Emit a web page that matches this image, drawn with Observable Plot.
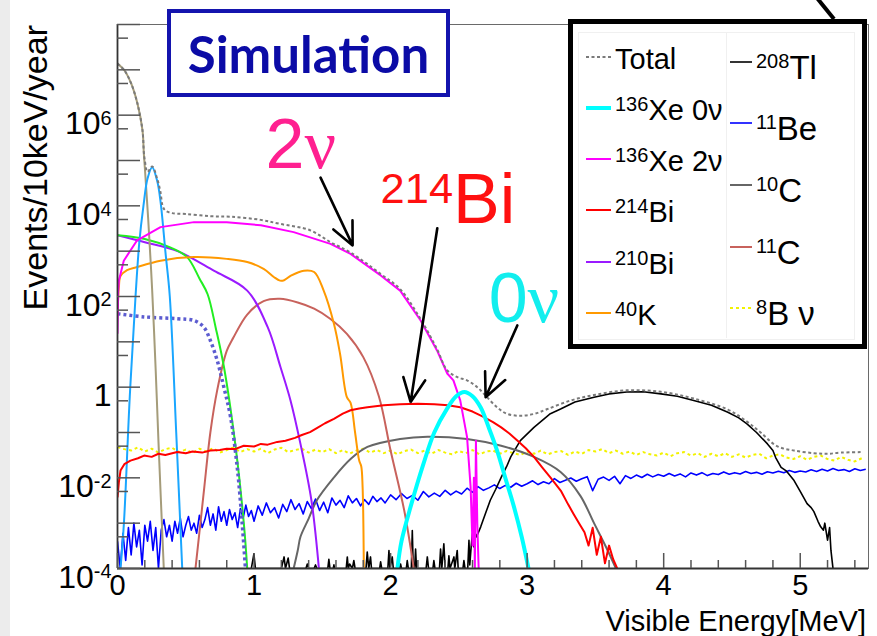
<!DOCTYPE html>
<html><head><meta charset="utf-8">
<script src="https://cdn.jsdelivr.net/npm/d3@7"></script>
<script src="https://cdn.jsdelivr.net/npm/@observablehq/plot@0.6"></script>
<style>
html,body{margin:0;padding:0;background:#fff;}
#wrap{position:relative;width:877px;height:636px;overflow:hidden;font-family:"Liberation Sans",Arial,sans-serif;}
#strip{position:absolute;left:0;top:0;width:10px;height:636px;background:#ececec;}
#chart{position:absolute;left:0;top:0;}
#sim{position:absolute;left:167px;top:9px;width:283px;height:88px;box-sizing:border-box;border:4px solid #1414ae;background:#fff;display:flex;align-items:center;justify-content:center;font-family:Lato,"Open Sans",sans-serif;font-weight:bold;font-size:51px;color:#0b0ba6;}
#legend{position:absolute;left:568px;top:19px;width:299px;height:330px;box-sizing:border-box;border:5px solid #000;background:#fff;}
#legend .inner{position:absolute;left:5px;top:8px;width:275px;height:306px;border:1px solid #f0f0f0;}
#legend .div{position:absolute;left:153px;top:8px;width:0;height:306px;border-left:1px solid #f0f0f0;}
#legend .row{position:absolute;height:50px;display:flex;align-items:center;white-space:nowrap;color:#000;}
#legend .row span.t{position:relative;line-height:1;}
#legend .sup{position:relative;font-size:20px;}
</style></head>
<body>
<div id="wrap">
  <div id="strip"></div>
  <div id="chart"></div>
  <div id="sim">Simulation</div>
  <div id="legend"><div class="inner"></div><div class="div"></div></div>
</div>
<script>
// ---------- data: [energy MeV, events/10keV/year] ----------
const total = [[0,1.38e7],[0.05,9.8e6],[0.1,5.0e6],[0.146,1.8e6],[0.183,4.6e5],[0.193,1.5e5],[0.2,1.0e5],[0.22,5.6e4],[0.254,7.4e4],[0.29,4.0e4],[0.315,2.0e4],[0.33,1.0e4],[0.35,7.9e3],[0.4,6.9e3],[0.5,6.6e3],[0.68,5.9e3],[0.83,5.75e3],[1.05,4.9e3],[1.19,4.0e3],[1.41,2.9e3],[1.56,1.58e3],[1.707,933],[1.93,309],[2.07,145],[2.22,31.6],[2.34,6.9],[2.415,2.34],[2.49,1.66],[2.56,1.41],[2.635,1.0],[2.7,0.63],[2.78,0.36],[2.85,0.26],[2.95,0.234],[3.05,0.257],[3.15,0.33],[3.32,0.51],[3.5,0.68],[3.73,0.85],[3.98,0.79],[4.22,0.56],[4.47,0.32],[4.61,0.174],[4.71,0.1],[4.83,0.05],[4.955,0.04],[5.1,0.035],[5.2,0.034],[5.3,0.036],[5.45,0.037]];
const xe136_0nu = [[2.05,1e-4],[2.08,4e-4],[2.15,2.5e-3],[2.24,0.02],[2.32,0.1],[2.415,0.34],[2.48,0.63],[2.54,0.78],[2.6,0.63],[2.66,0.355],[2.72,0.126],[2.78,0.04],[2.84,0.01],[2.9,2.5e-3],[2.96,5e-4],[3.01,1e-4]];
const xe136_2nu = [[0,15],[0.005,126],[0.01,224],[0.046,617],[0.144,1.74e3],[0.315,3.39e3],[0.56,4.37e3],[0.8,4.37e3],[1.05,3.72e3],[1.29,2.63e3],[1.56,1.45e3],[1.707,871],[1.93,288],[2.07,135],[2.22,29.5],[2.34,6.46],[2.415,2.0],[2.46,1.41],[2.51,0.51],[2.56,0.079],[2.586,6.3e-3],[2.6,3.2e-4],[2.61,0.01],[2.617,1e-4],[2.625,0.066],[2.635,1e-3],[2.645,1e-4]];
const bi214 = [[0,3.7e-3],[0.01,7.9e-3],[0.022,1.45e-2],[0.05,2.0e-2],[0.095,2.4e-2],[0.15,2.7e-2],[0.195,3.1e-2],[0.25,2.9e-2],[0.3,3.4e-2],[0.35,3.2e-2],[0.437,3.7e-2],[0.5,3.5e-2],[0.55,3.8e-2],[0.62,3.6e-2],[0.68,4.0e-2],[0.75,4.1e-2],[0.8,4.4e-2],[0.86,4.3e-2],[0.925,5.1e-2],[1.0,4.9e-2],[1.05,5.6e-2],[1.1,5.4e-2],[1.17,6.2e-2],[1.23,6.6e-2],[1.3,7.6e-2],[1.35,8.8e-2],[1.41,0.102],[1.46,0.125],[1.52,0.16],[1.585,0.2],[1.65,0.26],[1.707,0.31],[1.77,0.34],[1.83,0.36],[1.95,0.4],[2.07,0.42],[2.2,0.43],[2.32,0.42],[2.42,0.4],[2.51,0.36],[2.6,0.29],[2.68,0.22],[2.75,0.17],[2.81,0.13],[2.87,0.095],[2.93,0.066],[2.99,0.045],[3.05,0.029],[3.11,0.017],[3.17,0.0102],[3.21,7.2e-3],[3.25,5.0e-3],[3.3,2.6e-3],[3.34,1.6e-3],[3.38,1.0e-3],[3.42,6.3e-4],[3.45,3.2e-4],[3.48,7.9e-4],[3.51,2.0e-4],[3.54,5.0e-4],[3.57,1.3e-4],[3.6,3.2e-4],[3.63,1.6e-4],[3.66,1e-4]];
const bi210 = [[0,2.24e3],[0.2,1.58e3],[0.44,1.0e3],[0.705,370],[0.95,135],[1.1,21],[1.194,2.75],[1.267,0.51],[1.34,0.056],[1.42,3.2e-3],[1.475,1e-4]];
const k40 = [[0,40],[0.01,158],[0.022,282],[0.07,380],[0.144,447],[0.315,617],[0.56,741],[0.8,676],[0.95,575],[1.07,407],[1.145,269],[1.19,224],[1.22,229],[1.27,288],[1.365,372],[1.44,347],[1.51,135],[1.585,25],[1.63,5.4],[1.68,0.6],[1.707,0.45],[1.74,0.1],[1.77,0.024],[1.785,0.018],[1.795,6.3e-3],[1.804,1e-4]];
const tl208 = [[0.98,1e-4],[0.999,2.1e-4],[1.01,1e-4],[1.2,1e-4],[1.22,1.8e-4],[1.23,1e-4],[1.25,1.7e-4],[1.26,1e-4],[1.38,1e-4],[1.39,1.26e-4],[1.4,1e-4],[1.44,1e-4],[1.45,1.2e-4],[1.46,1e-4],[1.54,1e-4],[1.548,1.6e-4],[1.556,1e-4],[1.58,1e-4],[1.585,1.2e-4],[1.59,1e-4],[1.675,1e-4],[1.683,1.8e-4],[1.69,1e-4],[1.7,1.26e-4],[1.72,1e-4],[1.731,1.5e-4],[1.74,1e-4],[1.82,1e-4],[1.829,2.3e-4],[1.84,1e-4],[1.853,1.8e-4],[1.86,1e-4],[1.92,1e-4],[1.927,1.4e-4],[1.935,1e-4],[1.98,1e-4],[1.988,2.5e-4],[1.995,1e-4],[2.012,1.8e-4],[2.02,1e-4],[2.065,1e-4],[2.073,1.26e-4],[2.08,1e-4],[2.115,1e-4],[2.122,1.5e-4],[2.13,1e-4],[2.152,1e-4],[2.159,6.9e-4],[2.166,1e-4],[2.176,1e-4],[2.183,2.7e-4],[2.19,1e-4],[2.26,1e-4],[2.269,1.8e-4],[2.278,1e-4],[2.31,1e-4],[2.317,1.5e-4],[2.325,1e-4],[2.358,1e-4],[2.366,2.7e-4],[2.375,1e-4],[2.39,3.5e-4],[2.4,1e-4],[2.42,1e-4],[2.427,1.9e-4],[2.435,1e-4],[2.464,1.8e-4],[2.47,1e-4],[2.488,2.5e-4],[2.495,1e-4],[2.53,1e-4],[2.537,1.5e-4],[2.545,1e-4],[2.565,1e-4],[2.574,4.2e-4],[2.58,1.2e-4],[2.59,3e-4],[2.599,5.8e-4],[2.61,3e-4],[2.62,6e-4],[2.63,5e-4],[2.66,8.3e-4],[2.7,1.8e-3],[2.73,3.2e-3],[2.77,5.6e-3],[2.81,0.0102],[2.85,0.0178],[2.88,0.029],[2.95,0.066],[3.05,0.13],[3.17,0.26],[3.245,0.33],[3.35,0.47],[3.49,0.6],[3.6,0.71],[3.73,0.78],[3.85,0.79],[3.98,0.71],[4.1,0.63],[4.22,0.51],[4.35,0.4],[4.47,0.28],[4.55,0.21],[4.61,0.155],[4.68,0.1],[4.76,0.056],[4.8,0.04],[4.82,0.028],[4.86,0.017],[4.9,0.014],[4.955,8.7e-3],[5.0,5e-3],[5.05,2.7e-3],[5.08,2.2e-3],[5.1,1.8e-3],[5.13,1.1e-3],[5.15,8.3e-4],[5.17,7e-4],[5.18,1e-3],[5.2,4.2e-4],[5.215,8e-4],[5.225,2.5e-4],[5.24,1e-4]];
const be11 = [[0,4e-4],[0.02,1e-4],[0.04,6e-4],[0.06,1.5e-4],[0.08,8e-4],[0.1,2e-4],[0.12,1e-3],[0.14,3e-4],[0.16,7e-4],[0.18,1.2e-4],[0.2,9e-4],[0.22,4e-4],[0.24,1.1e-3],[0.26,2.5e-4],[0.28,8e-4],[0.3,1e-4],[0.32,7e-4],[0.34,1.2e-3],[0.36,5e-4],[0.38,9e-4],[0.4,4e-4],[0.42,1.1e-3],[0.44,6e-4],[0.46,1.3e-3],[0.48,5e-4],[0.5,9e-4],[0.52,1.4e-3],[0.54,7e-4],[0.56,1e-3],[0.58,6e-4],[0.6,1.5e-3],[0.62,8e-4],[0.64,1.2e-3],[0.66,2.2e-3],[0.68,9e-4],[0.7,1.6e-3],[0.72,7e-4],[0.74,2.3e-3],[0.76,1.1e-3],[0.78,1.8e-3],[0.8,9e-4],[0.82,2e-3],[0.84,1.2e-3],[0.86,1.7e-3],[0.88,8e-4],[0.9,2.1e-3],[0.92,1.3e-3],[0.94,2.5e-3],[0.96,1.4e-3],[0.98,1.9e-3],[1.0,1.1e-3],[1.03,2.4e-3],[1.06,1.5e-3],[1.09,2.8e-3],[1.12,1.7e-3],[1.15,2.2e-3],[1.18,1.3e-3],[1.21,2.6e-3],[1.24,1.8e-3],[1.27,3.3e-3],[1.3,2e-3],[1.33,2.7e-3],[1.36,1.6e-3],[1.39,3e-3],[1.42,2.1e-3],[1.45,3.4e-3],[1.48,1.9e-3],[1.51,2.9e-3],[1.54,1.7e-3],[1.57,3.6e-3],[1.6,2.5e-3],[1.63,3.2e-3],[1.66,2.2e-3],[1.69,4e-3],[1.72,2.8e-3],[1.75,3.5e-3],[1.78,2.4e-3],[1.81,3.3e-3],[1.84,2.6e-3],[1.87,3.9e-3],[1.9,3e-3],[1.93,3.6e-3],[1.96,2.8e-3],[2.0,4.2e-3],[2.04,3.3e-3],[2.08,4.5e-3],[2.12,3.5e-3],[2.16,4.1e-3],[2.2,3.2e-3],[2.24,5e-3],[2.28,3.8e-3],[2.32,4.6e-3],[2.36,3.9e-3],[2.4,5.3e-3],[2.44,4.2e-3],[2.48,5.1e-3],[2.52,4.4e-3],[2.56,5.9e-3],[2.6,4.8e-3],[2.64,6.4e-3],[2.68,5.3e-3],[2.72,6.0e-3],[2.76,7.0e-3],[2.8,5.8e-3],[2.84,6.8e-3],[2.88,6.2e-3],[2.92,7.6e-3],[2.96,6.5e-3],[3.0,7.4e-3],[3.04,8.6e-3],[3.08,7.1e-3],[3.12,8.2e-3],[3.16,7.4e-3],[3.2,9.6e-3],[3.24,7.9e-3],[3.28,8.8e-3],[3.32,9.9e-3],[3.36,8.4e-3],[3.4,9.5e-3],[3.44,1.06e-2],[3.48,5.2e-3],[3.52,9.3e-3],[3.56,1.04e-2],[3.6,8.8e-3],[3.64,1.08e-2],[3.68,7.4e-3],[3.72,1.12e-2],[3.76,9.7e-3],[3.8,1.15e-2],[3.84,1.02e-2],[3.88,1.2e-2],[3.92,1.05e-2],[3.96,1.18e-2],[4.0,1.08e-2],[4.04,1.25e-2],[4.08,1.1e-2],[4.12,1.22e-2],[4.16,1.05e-2],[4.2,1.28e-2],[4.24,1.15e-2],[4.28,1.3e-2],[4.32,1.12e-2],[4.36,1.25e-2],[4.4,1.18e-2],[4.44,1.35e-2],[4.48,1.2e-2],[4.52,1.3e-2],[4.56,1.22e-2],[4.6,1.38e-2],[4.64,1.25e-2],[4.68,1.32e-2],[4.72,1.2e-2],[4.76,1.36e-2],[4.8,1.28e-2],[4.84,1.4e-2],[4.88,1.3e-2],[4.92,1.45e-2],[4.96,1.32e-2],[5.0,1.42e-2],[5.04,1.35e-2],[5.08,1.5e-2],[5.12,1.38e-2],[5.16,1.55e-2],[5.2,1.42e-2],[5.24,1.6e-2],[5.28,1.45e-2],[5.32,1.52e-2],[5.36,1.38e-2],[5.4,1.58e-2],[5.44,1.45e-2],[5.48,1.55e-2]];
const c10 = [[1.29,1e-4],[1.32,2.5e-4],[1.34,5e-4],[1.4,1.26e-3],[1.46,3.2e-3],[1.585,0.0102],[1.707,0.026],[1.83,0.048],[2.07,0.072],[2.27,0.081],[2.56,0.072],[2.81,0.051],[3.05,0.029],[3.245,0.0135],[3.39,4e-3],[3.49,1e-3],[3.59,2.5e-4],[3.65,1e-4]];
const c11 = [[0.571,1e-4],[0.6,6.3e-4],[0.633,5.2e-3],[0.68,0.1],[0.73,0.85],[0.8,6.3],[0.85,12.6],[0.95,40],[1.07,79],[1.19,89],[1.32,74],[1.44,54],[1.56,32],[1.68,15],[1.8,4.6],[1.914,0.63],[2.0,0.04],[2.1,1.9e-3],[2.17,1e-4]];
// 8B neutrinos: values sampled every 0.05 MeV from 0 MeV
const b8Start = 0, b8Step = 0.05;
const b8Values = [0.048,0.043,0.040,0.047,0.038,0.044,0.036,0.043,0.046,0.037,0.042,0.035,0.044,0.038,0.045,0.036,0.041,0.047,0.037,0.043,0.038,0.044,0.035,0.042,0.046,0.037,0.041,0.044,0.036,0.042,0.037,0.043,0.035,0.041,0.034,0.040,0.044,0.036,0.041,0.035,0.040,0.033,0.039,0.042,0.035,0.040,0.034,0.041,0.036,0.033,0.039,0.035,0.041,0.033,0.038,0.040,0.034,0.039,0.035,0.032,0.038,0.034,0.040,0.033,0.037,0.039,0.032,0.038,0.034,0.041,0.038,0.043,0.035,0.040,0.034,0.038,0.032,0.037,0.033,0.031,0.036,0.030,0.035,0.037,0.031,0.035,0.029,0.034,0.030,0.035,0.029,0.033,0.028,0.032,0.034,0.027,0.031,0.033,0.028,0.026,0.030,0.025,0.029,0.031,0.026,0.024,0.029,0.025,0.023,0.027];
// unlabelled low-energy components
const khaki = [[0,1.38e7],[0.05,9.8e6],[0.1,5.0e6],[0.146,1.8e6],[0.183,4.6e5],[0.193,1.4e5],[0.2,7.1e4],[0.212,2.0e4],[0.225,5.0e3],[0.254,135],[0.28,2.24],[0.3,0.063],[0.339,1e-4]];
const skyblue = [[0.022,1e-4],[0.047,1e-3],[0.09,0.63],[0.132,100],[0.16,1.6e3],[0.19,1e4],[0.22,4e4],[0.254,7.1e4],[0.29,3.6e4],[0.315,1.26e4],[0.352,890],[0.383,100],[0.43,0.1],[0.474,1e-4]];
const green = [[0,2.24e3],[0.2,1.86e3],[0.39,1.2e3],[0.51,740],[0.6,250],[0.66,112],[0.72,20],[0.78,2.75],[0.865,0.048],[0.925,1e-3],[0.95,1e-4]];
const dotBlue = [[0,41.7],[0.195,35.5],[0.437,32.4],[0.56,29.5],[0.633,20.9],[0.68,10.7],[0.73,3.9],[0.779,1.0],[0.828,0.22],[0.877,0.017],[0.913,1e-3],[0.937,1e-4]];

// ticks
const yTickLabels = [1e-4, 1e-2, 1, 1e2, 1e4, 1e6];
const yDecadeTicks = [1e-4,1e-3,1e-2,1e-1,1,1e1,1e2,1e3,1e4,1e5,1e6,1e7,1e8];
const yHalfTicks = [5e-4,5e-3,5e-2,5e-1,5,5e1,5e2,5e3,5e4,5e5,5e6,5e7];
const xTickLabels = [0, 1, 2, 3, 4, 5];
const xMinorTicks = [0.2,0.4,0.6,0.8,1.2,1.4,1.6,1.8,2.2,2.4,2.6,2.8,3.2,3.4,3.6,3.8,4.2,4.4,4.6,4.8,5.2,5.4];

// annotations (data coordinates)
const arrows = [
  {x1: 1.487, y1: 4.2e4, x2: 1.722, y2: 1340},
  {x1: 2.342, y1: 3.2e3, x2: 2.147, y2: 0.47},
  {x1: 2.928, y1: 23, x2: 2.696, y2: 0.6}
];
const notes = [
  {label: "2{ν}", x: 1.084, y: 7.0e4, color: "#ff2090"},
  {label: "^{214}Bi", x: 1.927, y: 4.1e3, color: "#ff1010"},
  {label: "0{ν}", x: 2.718, y: 26.7, color: "#12eeee"}
];

// legend
const legendLeft = [
  {label: "Total", key: "total"},
  {label: "^{136}Xe 0ν", key: "0nu"},
  {label: "^{136}Xe 2ν", key: "2nu"},
  {label: "^{214}Bi", key: "bi214"},
  {label: "^{210}Bi", key: "bi210"},
  {label: "^{40}K", key: "k40"}
];
const legendRight = [
  {label: "^{208}Tl", key: "tl208"},
  {label: "^{11}Be", key: "be11"},
  {label: "^{10}C", key: "c10"},
  {label: "^{11}C", key: "c11"},
  {label: "^{8}B ν", key: "b8"}
];

const styles = {
  total: {stroke: "#7a7a7a", w: 2, dash: "3,2.5"},
  "0nu": {stroke: "#00ffff", w: 4},
  "2nu": {stroke: "#ff00ff", w: 2},
  bi214: {stroke: "#ff0000", w: 2},
  bi210: {stroke: "#9a1aff", w: 2},
  k40: {stroke: "#ff9900", w: 2},
  tl208: {stroke: "#000000", w: 1.6},
  be11: {stroke: "#0000ff", w: 1.6},
  c10: {stroke: "#666666", w: 2},
  c11: {stroke: "#c8625c", w: 2},
  b8: {stroke: "#f2f200", w: 2, dash: "3,3"},
  khaki: {stroke: "#a59c7a", w: 2},
  skyblue: {stroke: "#1aa6ff", w: 2},
  green: {stroke: "#22ee22", w: 2},
  dotBlue: {stroke: "#5c5cd0", w: 3.5, dash: "3,3"}
};

const b8 = b8Values.map((v, i) => [b8Start + i * b8Step, v]);

function L(data, key, curve = "catmull-rom") {
  const s = styles[key];
  return Plot.line(data, {x: d => d[0], y: d => d[1], stroke: s.stroke, strokeWidth: s.w,
    strokeDasharray: s.dash, curve, clip: true, strokeLinejoin: "round", strokeLinecap: "butt"});
}

const W = 877, H = 636, mL = 117, mR = 9, mT = 24, mB = 68;
const pw = W - mL - mR, ph = H - mT - mB;

const plot = Plot.plot({
  width: W, height: H,
  marginLeft: mL, marginRight: mR, marginTop: mT, marginBottom: mB,
  style: {background: "transparent", fontFamily: "'Liberation Sans', Arial, sans-serif", overflow: "visible"},
  x: {domain: [0, 5.5]},
  y: {type: "log", domain: [1e-4, 1e8]},
  marks: [
    L(b8, "b8", "linear"),
    L(be11, "be11", "linear"),
    L(tl208, "tl208", "linear"),
    L(c10, "c10"),
    L(c11, "c11"),
    L(bi210, "bi210"),
    L(green, "green"),
    L(dotBlue, "dotBlue"),
    L(k40, "k40"),
    L(khaki, "khaki"),
    L(skyblue, "skyblue"),
    L(bi214, "bi214", "linear"),
    L(xe136_2nu, "2nu", "linear"),
    L(xe136_0nu, "0nu"),
    L(total, "total"),
    Plot.frame({stroke: "#6a6a6a", strokeWidth: 1}),
    Plot.ruleX([0], {stroke: "#333", strokeWidth: 1.8}),
    Plot.ruleY([1e-4], {stroke: "#333", strokeWidth: 1.8}),
    Plot.tickY(yDecadeTicks, {y: d => d, insetRight: pw - 23, stroke: "#555", strokeWidth: 1.5}),
    Plot.tickY(yHalfTicks, {y: d => d, insetRight: pw - 11, stroke: "#555", strokeWidth: 1.5}),
    Plot.tickX(xTickLabels, {x: d => d, insetTop: ph - 15, stroke: "#555", strokeWidth: 1.5}),
    Plot.tickX(xMinorTicks, {x: d => d, insetTop: ph - 8, stroke: "#555", strokeWidth: 1.5}),
    Plot.axisY({ticks: yTickLabels, tickSize: 0, tickPadding: 6, fontSize: 32, dy: 9, label: null,
      tickFormat: d => d === 1 ? "1" : `10^{${Math.round(Math.log10(d))}}`}),
    Plot.axisX({ticks: xTickLabels, tickSize: 0, tickPadding: 6, fontSize: 29, label: null, tickFormat: d => String(d)}),
    Plot.arrow(arrows, {x1: "x1", y1: "y1", x2: "x2", y2: "y2", stroke: "#000", strokeWidth: 2.6, headLength: 15, headAngle: 50}),
    Plot.text(notes, {x: "x", y: "y", text: "label", fill: "color", fontSize: 70, textAnchor: "start", lineAnchor: "bottom"})
  ]
});

document.getElementById("chart").appendChild(plot);

// rich text: ^{...} superscripts, {ν} in serif
const NS = "http://www.w3.org/2000/svg";
plot.querySelectorAll("text").forEach(el => {
  const s = el.textContent;
  if (!/\^\{|\{ν\}/.test(s)) return;
  const F = parseFloat(getComputedStyle(el).fontSize);
  const up = 0.29 * F;
  el.textContent = "";
  let cur = 0;
  for (const m of s.matchAll(/\^\{([^}]*)\}|\{ν\}|[^\^{]+/g)) {
    const t = document.createElementNS(NS, "tspan");
    if (m[1] !== undefined) {
      t.textContent = m[1];
      t.setAttribute("font-size", 0.62 * F);
      t.setAttribute("dy", -up - cur); cur = -up;
    } else {
      const isNu = m[0] === "{ν}";
      t.textContent = isNu ? "ν" : m[0];
      if (isNu) t.setAttribute("font-family", "'Liberation Serif', serif");
      t.setAttribute("dy", -cur); cur = 0;
    }
    el.appendChild(t);
  }
});

// axis titles (ROOT style, right aligned)
const svg = d3.select(plot);
svg.append("text").attr("transform", "translate(47,25) rotate(-90)")
  .attr("text-anchor", "end").attr("font-size", 34).attr("fill", "#000")
  .text("Events/10keV/year");
svg.append("text").attr("x", 866).attr("y", 631)
  .attr("text-anchor", "end").attr("font-size", 29).attr("fill", "#000")
  .text("Visible Energy[MeV]");

// legend
const legend = document.getElementById("legend");
function labelHTML(s) {
  return s.replace(/\^\{([^}]*)\}/g, '<span class="sup">$1</span>');
}
function addRow(item, left, top, lineW, fontSize, supUp, textShift) {
  const st = styles[item.key];
  const row = document.createElement("div");
  row.className = "row";
  row.style.left = left + "px";
  row.style.top = (top - 25) + "px";
  row.innerHTML = `<svg width="${lineW + 4}" height="8" style="flex:none"><line x1="0" y1="4" x2="${lineW}" y2="4" stroke="${st.stroke}" stroke-width="${Math.min(st.w, 4)}" ${st.dash ? `stroke-dasharray="${st.dash}"` : ""}/></svg>` +
    `<span class="t" style="font-size:${fontSize}px;top:${textShift}px">${labelHTML(item.label)}</span>`;
  row.querySelectorAll(".sup").forEach(s => { s.style.top = (-supUp) + "px"; });
  legend.appendChild(row);
}
const leftRowsY = [33, 84, 135, 186, 238, 289];
const rightRowsY = [38, 99, 161, 223, 284];
legendLeft.forEach((it, i) => addRow(it, 13, leftRowsY[i], 25, 29, 9, 2));
legendRight.forEach((it, i) => addRow(it, 157, rightRowsY[i], 22, 33, 11, 5));

// cut-off pointer stroke at the top right
svg.append("line").attr("x1", 817).attr("y1", -2).attr("x2", 834).attr("y2", 19)
  .attr("stroke", "#000").attr("stroke-width", 4);
</script>
</body></html>
